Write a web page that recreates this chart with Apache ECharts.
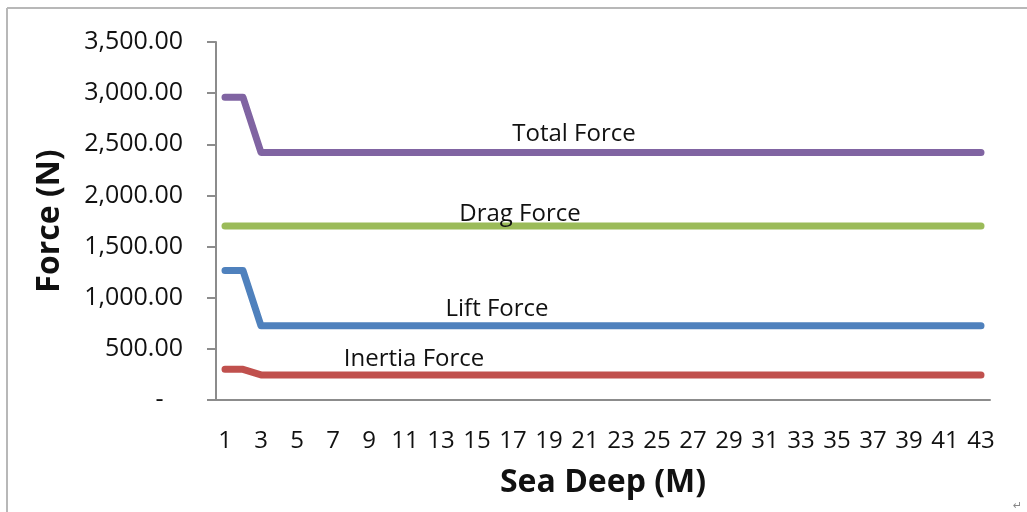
<!DOCTYPE html>
<html>
<head>
<meta charset="utf-8">
<script src="https://cdn.jsdelivr.net/npm/echarts@6/dist/echarts.min.js"></script>
<style>html,body{margin:0;padding:0;background:#fff;}#chart{width:1027px;height:512px;}</style>
</head>
<body>
<div id="chart"></div>
<script>
// Categories: sea depth 1..43
const depths = ['1','2','3','4','5','6','7','8','9','10','11','12','13','14','15','16','17','18','19','20','21','22','23','24','25','26','27','28','29','30','31','32','33','34','35','36','37','38','39','40','41','42','43'];
// Series values (N)
const totalForce = [2960,2960,2420,2420,2420,2420,2420,2420,2420,2420,2420,2420,2420,2420,2420,2420,2420,2420,2420,2420,2420,2420,2420,2420,2420,2420,2420,2420,2420,2420,2420,2420,2420,2420,2420,2420,2420,2420,2420,2420,2420,2420,2420];
const dragForce = [1700,1700,1700,1700,1700,1700,1700,1700,1700,1700,1700,1700,1700,1700,1700,1700,1700,1700,1700,1700,1700,1700,1700,1700,1700,1700,1700,1700,1700,1700,1700,1700,1700,1700,1700,1700,1700,1700,1700,1700,1700,1700,1700];
const liftForce = [1265,1265,725,725,725,725,725,725,725,725,725,725,725,725,725,725,725,725,725,725,725,725,725,725,725,725,725,725,725,725,725,725,725,725,725,725,725,725,725,725,725,725,725];
const inertiaForce = [300,300,245,245,245,245,245,245,245,245,245,245,245,245,245,245,245,245,245,245,245,245,245,245,245,245,245,245,245,245,245,245,245,245,245,245,245,245,245,245,245,245,245];
// Y tick range
const yMin = 0, yMax = 3500, yStep = 500;

const FONT = '"Open Sans", "DejaVu Sans", sans-serif';

function fmtY(v) {
  if (v === 0) return '-   ';
  return v.toFixed(2).replace(/\B(?=(\d{3})+(?!\d))/g, ',');
}

function lineSeries(name, data, color, labelCat, labelVal, off) {
  return {
    name: name, type: 'line', data: data, symbol: 'none',
    lineStyle: { color: color, width: 7, cap: 'round', join: 'round' },
    itemStyle: { color: color },
    z: 3,
    markPoint: {
      symbol: 'circle', symbolSize: 0, silent: true,
      data: [{ coord: [labelCat, labelVal] }],
      label: { show: true, position: 'inside', formatter: name, offset: off,
        fontFamily: FONT, fontSize: 24, color: '#111' }
    }
  };
}

const chart = echarts.init(document.getElementById('chart'), null, { renderer: 'canvas' });
chart.setOption({
  animation: false,
  backgroundColor: '#fff',
  grid: { left: 216, right: 37, top: 42, bottom: 112 },
  xAxis: {
    type: 'category', data: depths, boundaryGap: true,
    name: 'Sea Deep (M)', nameLocation: 'middle', nameGap: 67,
    nameTextStyle: { fontFamily: FONT, fontSize: 32, fontWeight: 'bold', color: '#111' },
    axisLine: { lineStyle: { color: '#8c8c8c', width: 2 } },
    axisTick: { show: false },
    axisLabel: { interval: 1, margin: 29, fontFamily: FONT, fontSize: 24, color: '#111' },
    splitLine: { show: false }
  },
  yAxis: {
    type: 'value', min: yMin, max: yMax, interval: yStep,
    name: 'Force (N)', nameLocation: 'middle', nameGap: 150,
    nameTextStyle: { fontFamily: FONT, fontSize: 32, fontWeight: 'bold', color: '#111' },
    axisLine: { show: true, lineStyle: { color: '#8c8c8c', width: 2 } },
    axisTick: { show: true, length: 9, lineStyle: { color: '#8c8c8c', width: 2 } },
    axisLabel: { margin: 33, fontFamily: FONT, fontSize: 25, color: '#111', formatter: fmtY },
    splitLine: { show: false }
  },
  series: [
    lineSeries('Total Force', totalForce, '#8064A2', '20', 2420, [7, -18]),
    lineSeries('Drag Force', dragForce, '#9BBB59', '17', 1700, [7, -12]),
    lineSeries('Lift Force', liftForce, '#4F81BD', '16', 725, [2, -17]),
    lineSeries('Inertia Force', inertiaForce, '#C0504D', '11', 245, [9, -16])
  ],
  graphic: [
    { type: 'line', shape: { x1: 7, y1: 8, x2: 1027, y2: 8 }, style: { stroke: '#b8b8b8', lineWidth: 2 } },
    { type: 'line', shape: { x1: 7, y1: 8, x2: 7, y2: 512 }, style: { stroke: '#b8b8b8', lineWidth: 2 } },
    { type: 'text', left: 1013, top: 500, style: { text: '↵', fontSize: 11, fill: '#888', fontFamily: FONT } }
  ]
});
</script>
</body>
</html>
